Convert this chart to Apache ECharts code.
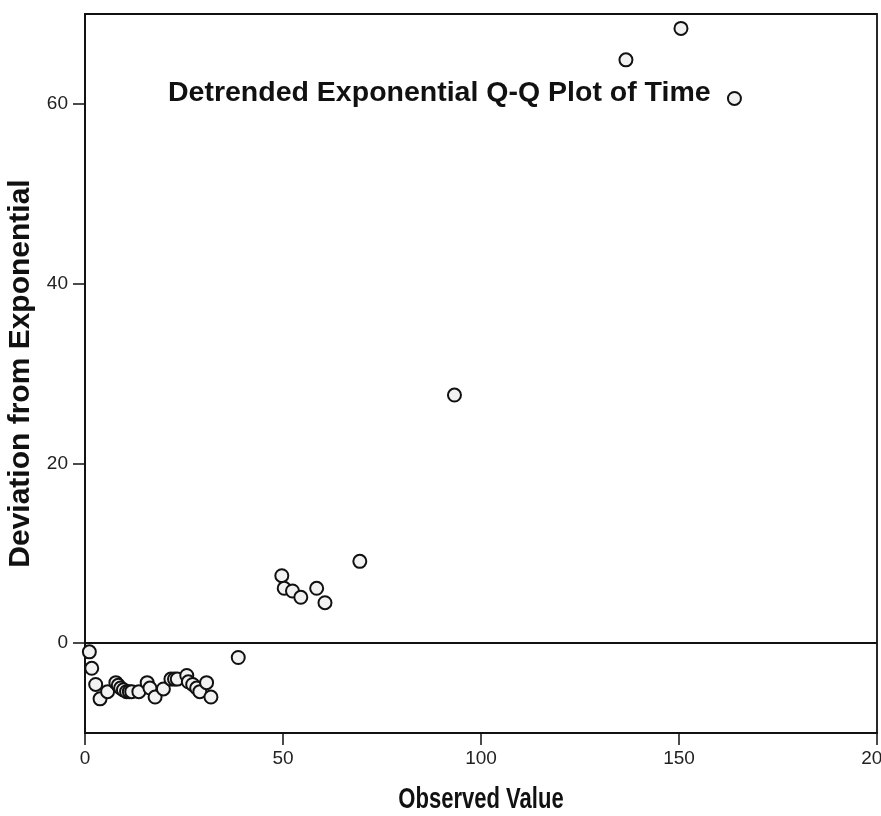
<!DOCTYPE html>
<html>
<head>
<meta charset="utf-8">
<script src="https://cdn.jsdelivr.net/npm/echarts@6/dist/echarts.min.js"></script>
<style>
  html, body { margin: 0; padding: 0; background: #fff; }
  #chart { width: 881px; height: 816px; }
</style>
</head>
<body>
<div id="chart"></div>
<script>
// Observed values (x) and their deviation from the exponential expectation (y)
const observed = [
  1.1, 1.7, 2.7, 3.8, 5.7, 7.8, 8.4, 9.0, 9.7, 10.5, 11.2, 11.8, 13.6, 15.7,
  16.4, 17.7, 19.8, 21.7, 22.6, 23.3, 25.7, 26.1, 27.2, 28.2, 29.0, 30.7, 31.8,
  38.7, 49.7, 50.3, 52.4, 54.5, 58.5, 60.6, 69.4, 93.3, 136.6, 150.5, 164.0
];
const deviation = [
  -0.97, -2.8, -4.6, -6.2, -5.4, -4.4, -4.7, -5.0, -5.2, -5.4, -5.4, -5.4, -5.4, -4.4,
  -5.0, -6.0, -5.1, -4.0, -4.0, -4.0, -3.6, -4.3, -4.6, -5.0, -5.4, -4.4, -6.0,
  -1.6, 7.5, 6.1, 5.8, 5.1, 6.1, 4.5, 9.1, 27.6, 64.9, 68.4, 60.6
];
const xTicks = [0, 50, 100, 150, 200];
const yTicks = [0, 20, 40, 60];

const chartTitle = 'Detrended Exponential Q-Q Plot of Time';
const xName = 'Observed Value';
const yName = 'Deviation from Exponential';

const points = observed.map((v, i) => [v, deviation[i]]);

const sans = "'Liberation Sans', Arial, sans-serif";
const ink = '#111';

const GRID = { left: 85, right: 4, top: 14, bottom: 83 };

const chart = echarts.init(document.getElementById('chart'), null, { renderer: 'canvas' });

chart.setOption({
  backgroundColor: '#ffffff',
  animation: false,
  title: {
    text: chartTitle,
    left: 163,
    top: 74,
    textStyle: { fontFamily: sans, fontWeight: 'bold', fontSize: 28.5, color: ink }
  },
  grid: {
    left: GRID.left, right: GRID.right, top: GRID.top, bottom: GRID.bottom,
    outerBoundsMode: 'none',
    containLabel: false,
    show: true, borderColor: ink, borderWidth: 1.8, backgroundColor: 'transparent'
  },
  // x-axis title, drawn a little condensed like the tick lettering
  graphic: [{
    type: 'text',
    x: GRID.left + (881 - GRID.left - GRID.right) / 2,
    y: 800,
    scaleX: 0.76,
    style: {
      text: xName,
      font: "bold 29px 'Liberation Sans', Arial, sans-serif",
      fill: ink,
      align: 'center',
      verticalAlign: 'middle'
    }
  }],
  xAxis: {
    type: 'value',
    min: 0, max: 200, interval: 50,
    axisLine: { show: true, onZero: false, lineStyle: { color: ink, width: 1.8 } },
    axisTick: { show: true, inside: false, length: 12, lineStyle: { color: ink, width: 1.5 },
      customValues: xTicks },
    axisLabel: { margin: 16, fontFamily: sans, fontSize: 19, color: '#222',
      customValues: xTicks },
    splitLine: { show: false }
  },
  yAxis: {
    type: 'value',
    min: -10, max: 70,
    name: yName,
    nameLocation: 'middle',
    nameGap: 43,
    nameTextStyle: { fontFamily: sans, fontWeight: 'bold', fontSize: 30, color: ink },
    axisLine: { show: true, onZero: false, lineStyle: { color: ink, width: 1.8 } },
    axisTick: { show: true, inside: false, length: 12, lineStyle: { color: ink, width: 1.5 },
      customValues: yTicks },
    axisLabel: { margin: 17, fontFamily: sans, fontSize: 19, color: '#222',
      customValues: yTicks },
    splitLine: { show: false }
  },
  series: [{
    type: 'scatter',
    data: points,
    symbol: 'circle',
    symbolSize: 13,
    itemStyle: { color: '#f2f2f2', borderColor: ink, borderWidth: 2, opacity: 1 },
    markLine: {
      silent: true,
      symbol: 'none',
      label: { show: false },
      lineStyle: { color: ink, width: 1.8, type: 'solid' },
      data: [{ yAxis: 0 }]
    }
  }]
});
</script>
</body>
</html>
